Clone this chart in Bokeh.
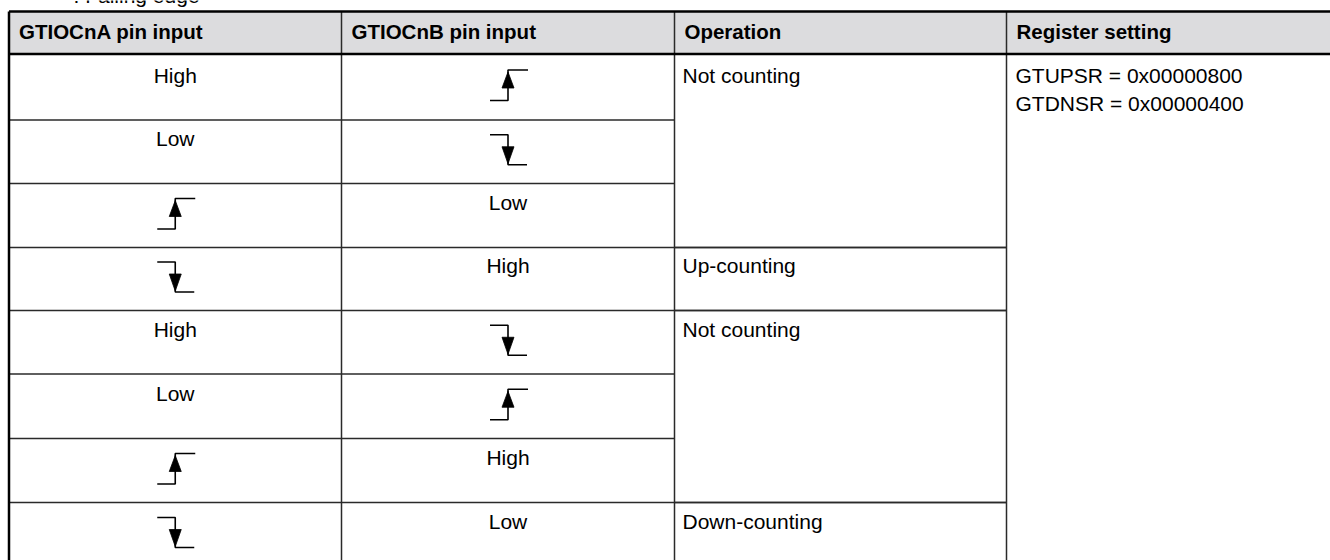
from bokeh.plotting import figure
from bokeh.models import Range1d
from bokeh.embed import file_html
from bokeh.resources import INLINE
from bokeh.core.properties import value

# ---- table content ----
headers = ["GTIOCnA pin input", "GTIOCnB pin input", "Operation", "Register setting"]
a_input = ["High", "Low", "rise", "fall", "High", "Low", "rise", "fall"]
b_input = ["rise", "fall", "Low", "High", "fall", "rise", "High", "Low"]
op_text = ["Not counting", "Up-counting", "Not counting", "Down-counting"]
op_start = [0, 3, 4, 7]
op_span = [3, 1, 3, 1]
register = ["GTUPSR = 0x00000800", "GTDNSR = 0x00000400"]
note = ": Falling edge"

# ---- layout (picture pixel coordinates) ----
W, H = 1330, 560
LEFT = 8.5
col_edges = [LEFT, 341, 674, 1006, 1400]
top_y = 11
head_y = 53.5
row_edges = [53.5, 119.5, 183, 247, 310, 373.5, 438, 502, 566]
FONT = value("Liberation Sans")
MID = 44.7   # text anchor (middle) distance above a row's bottom edge

p = figure(width=W, height=H, x_range=Range1d(0, W), y_range=Range1d(H, 0),
           output_backend="svg", toolbar_location=None, min_border=0,
           x_axis_type=None, y_axis_type=None)
p.grid.visible = False
p.outline_line_color = None
p.background_fill_color = "white"
p.border_fill_color = "white"

# header background
p.quad(left=[LEFT], right=[col_edges[-1]], top=[top_y], bottom=[head_y],
       fill_color="#dcdcde", line_color=None)

# inner lines
x0s, y0s, x1s, y1s = [], [], [], []
for i in range(1, len(row_edges) - 1):
    x0s.append(LEFT); x1s.append(col_edges[2]); y0s.append(row_edges[i]); y1s.append(row_edges[i])
for s, n in zip(op_start, op_span):
    for yy in (row_edges[s], row_edges[s + n]):
        x0s.append(col_edges[2]); x1s.append(col_edges[3]); y0s.append(yy); y1s.append(yy)
for c in col_edges[1:4]:
    x0s.append(c); x1s.append(c); y0s.append(top_y); y1s.append(row_edges[-1])
p.segment(x0=x0s, y0=y0s, x1=x1s, y1=y1s, line_color="#2a2a2a", line_width=1.5)

# thick outer lines
p.segment(x0=[LEFT, LEFT, LEFT], y0=[top_y, head_y, top_y],
          x1=[col_edges[-1], col_edges[-1], LEFT], y1=[top_y, head_y, row_edges[-1]],
          line_color="black", line_width=2.5)

# header texts
p.text(x=[c + 10 for c in col_edges[:4]], y=[31] * 4, text=headers,
       text_font=FONT, text_font_size="20.5px", text_font_style="bold",
       text_color="black", text_baseline="middle", text_align="left")

# note above the table (mostly cut off at the top edge)
p.text(x=[73], y=[-5.5], text=[note], text_font=FONT, text_font_size="21px",
       text_color="black", text_baseline="middle", text_align="left")

# cell texts and edge symbols for input columns
tx, ty, tt = [], [], []
lxs, lys, axs, ays = [], [], [], []
for ci, col in enumerate([a_input, b_input]):
    cx = (col_edges[ci] + col_edges[ci + 1]) / 2
    for ri, v in enumerate(col):
        top, bot = row_edges[ri], row_edges[ri + 1]
        cy = (top + bot) / 2
        if v == "rise":
            lxs.append([cx - 18, cx, cx, cx + 20])
            lys.append([cy + 13.5, cy + 13.5, cy - 17, cy - 17])
            axs.append([cx, cx - 6, cx + 6])
            ays.append([cy - 15, cy + 1, cy + 1])
        elif v == "fall":
            lxs.append([cx - 18, cx, cx, cx + 19])
            lys.append([cy - 17, cy - 17, cy + 13, cy + 13])
            axs.append([cx, cx - 6, cx + 6])
            ays.append([cy + 12, cy - 5, cy - 5])
        else:
            tx.append(cx); ty.append(bot - MID); tt.append(v)
p.text(x=tx, y=ty, text=tt, text_font=FONT, text_font_size="21px",
       text_color="black", text_baseline="middle", text_align="center")
p.multi_line(xs=lxs, ys=lys, line_color="black", line_width=1.6)
p.patches(xs=axs, ys=ays, fill_color="black", line_color="black", line_width=0.8)

# operation column
p.text(x=[col_edges[2] + 8] * len(op_text),
       y=[row_edges[s + 1] - MID for s in op_start], text=op_text,
       text_font=FONT, text_font_size="21px", text_color="black",
       text_baseline="middle", text_align="left")

# register column
p.text(x=[col_edges[3] + 9] * len(register),
       y=[row_edges[1] - MID + 28 * i for i in range(len(register))], text=register,
       text_font=FONT, text_font_size="21px", text_color="black",
       text_baseline="middle", text_align="left")

open("out.html", "w").write(file_html(p, INLINE))
